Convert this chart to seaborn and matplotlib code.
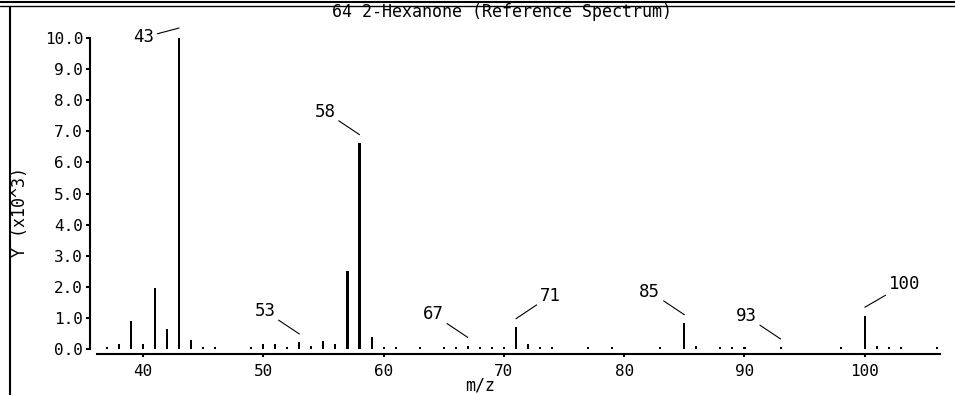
import numpy as np
import pandas as pd
import seaborn as sns
import matplotlib.pyplot as plt
from matplotlib.lines import Line2D
from matplotlib.transforms import ScaledTranslation

# m/z values and intensities (x10^3)
mz = [37, 38, 39, 40, 41, 42, 43, 44, 45, 46,
      49, 50, 51, 52, 53, 54, 55, 56, 57, 58, 59, 60, 61,
      63, 65, 66, 67, 68, 69, 70, 71, 72, 73, 74,
      77, 79, 83, 85, 86, 88, 89, 90, 93,
      98, 100, 101, 102, 103, 106]
intensity = [0.05, 0.16, 0.9, 0.16, 1.95, 0.65, 10.0, 0.28, 0.08, 0.05,
             0.05, 0.15, 0.15, 0.05, 0.21, 0.1, 0.27, 0.16, 2.5, 6.62, 0.4, 0.05, 0.05,
             0.05, 0.05, 0.05, 0.1, 0.05, 0.05, 0.05, 0.7, 0.15, 0.05, 0.05,
             0.05, 0.05, 0.05, 0.83, 0.1, 0.05, 0.05, 0.05, 0.05,
             0.05, 1.07, 0.1, 0.05, 0.05, 0.05]

# peaks that get a leader-line label
labelled = [43, 53, 58, 67, 71, 85, 93, 100]

title = "64 2-Hexanone (Reference Spectrum)"

df = pd.DataFrame({"mz": mz, "intensity": intensity})

sns.set_style("ticks")
plt.rcParams["font.family"] = ["DejaVu Sans Mono", "DejaVu Sans"]
plt.rcParams["text.color"] = "black"
plt.rcParams["axes.labelcolor"] = "black"

fig = plt.figure(figsize=(9.55, 3.95), dpi=100)
ax = fig.add_axes([97 / 955, 46 / 395, 843 / 955, 311 / 395])

sns.histplot(data=df, x="mz", weights="intensity", discrete=True, shrink=0.17,
             color="black", alpha=1, linewidth=0, ax=ax)

ax.set_xlim(36.18, 106.25)
ax.set_ylim(0, 10)
ax.set_xticks(np.arange(40, 101, 10))
ax.set_yticks(np.arange(0, 11, 1))
ax.set_yticklabels([f"{v:.1f}" for v in np.arange(0, 11, 1)])

for side in ["top", "right"]:
    ax.spines[side].set_visible(False)
ax.spines["left"].set_position(("outward", 5))
ax.spines["left"].set_bounds(0, 10)
ax.spines["bottom"].set_position(("outward", 3.6))
for side in ["left", "bottom"]:
    ax.spines[side].set_linewidth(1.5)
    ax.spines[side].set_color("black")

ax.tick_params(axis="y", length=3, width=1.5, pad=2, labelsize=11.5, colors="black")
ax.tick_params(axis="x", length=2.5, width=1.5, pad=5, labelsize=11.5, colors="black")

ax.set_xlabel("m/z", fontsize=12)
ax.xaxis.set_label_coords((480 - 97) / 843, -(377 - 349) / 311)
ax.set_ylabel("Y (x10^3)", fontsize=12)
ax.yaxis.set_label_coords((20 - 97) / 843, 0.44)
ax.yaxis.label.set_va("center")

# leader-line labels
for m in labelled:
    h = intensity[mz.index(m)]
    if m == 43:
        gap, off, ha = 7.2, (-18, -6.8), "right"
    elif m in (71, 100):
        gap, off, ha = 6.1, (17.3, 16.6), "left"
    else:
        gap, off, ha = 6.1, (-17.3, 16.6), "right"
    tr = ax.transData + ScaledTranslation(0, gap / 72, fig.dpi_scale_trans)
    ax.annotate(str(m), xy=(m, h), xycoords=tr, xytext=off, textcoords="offset points",
                ha=ha, va="center", fontsize=12.5, color="black", annotation_clip=False,
                arrowprops=dict(arrowstyle="-", lw=0.8, color="black",
                                shrinkA=0, shrinkB=0))

fig.text(502 / 955, 1 - 12 / 395, title, ha="center", va="center", fontsize=12,
         color="black")

# panel frame
fig.add_artist(Line2D([0, 1], [1 - 1.5 / 395] * 2, transform=fig.transFigure,
                      color="black", lw=1.5))
fig.add_artist(Line2D([0, 1], [1 - 5.5 / 395] * 2, transform=fig.transFigure,
                      color="black", lw=1))
fig.add_artist(Line2D([9.5 / 955] * 2, [0, 1 - 7 / 395], transform=fig.transFigure,
                      color="black", lw=1.5))

fig.savefig("out.png", dpi=100)
